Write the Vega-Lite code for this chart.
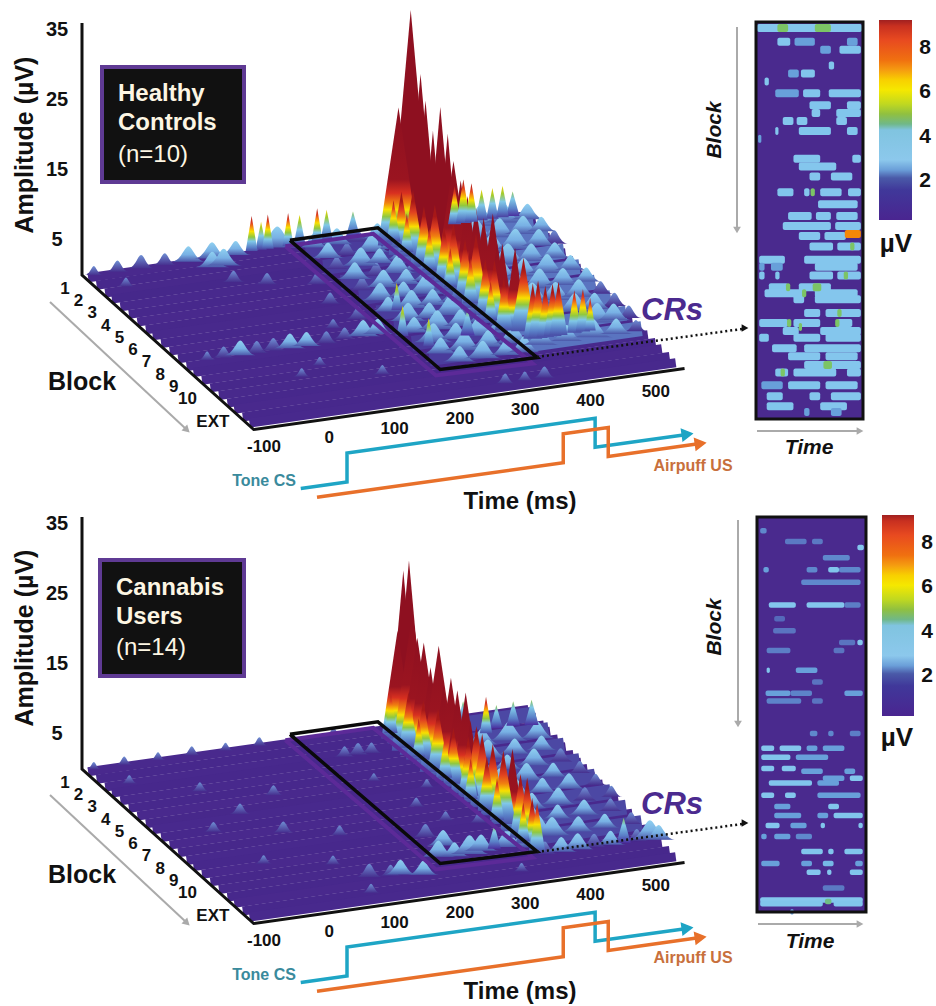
{"$schema":"https://vega.github.io/schema/vega-lite/v6.json","width":936,"height":1006,"autosize":{"type":"fit","contains":"padding"},"padding":0,"background":"white","config":{"view":{"stroke":null},"axis":{"disable":true},"legend":{"disable":true},"text":{"font":"Liberation Sans"}},
"datasets":{
"floor":[{"p":1,"t":-96,"t2":556,"d":0.02,"a":0.2},{"p":1,"t":-96,"t2":556,"d":0.07,"a":0.9},{"p":1,"t":-96,"t2":556,"d":0.12,"a":0.4},{"p":1,"t":-96,"t2":556,"d":0.16,"a":1.1},{"p":1,"t":-96,"t2":556,"d":0.21,"a":0.3},{"p":1,"t":-96,"t2":556,"d":0.26,"a":0.8},{"p":1,"t":-96,"t2":556,"d":0.31,"a":0.2},{"p":1,"t":-96,"t2":556,"d":0.36,"a":1.0},{"p":1,"t":-96,"t2":556,"d":0.4,"a":0.4},{"p":1,"t":-96,"t2":556,"d":0.45,"a":0.9},{"p":1,"t":-96,"t2":556,"d":0.5,"a":0.2},{"p":1,"t":-96,"t2":556,"d":0.55,"a":1.1},{"p":1,"t":-96,"t2":556,"d":0.6,"a":0.3},{"p":1,"t":-96,"t2":556,"d":0.64,"a":0.8},{"p":1,"t":-96,"t2":556,"d":0.69,"a":0.2},{"p":1,"t":-96,"t2":556,"d":0.74,"a":1.0},{"p":1,"t":-96,"t2":556,"d":0.79,"a":0.4},{"p":1,"t":-96,"t2":556,"d":0.84,"a":0.8},{"p":1,"t":-96,"t2":556,"d":0.88,"a":0.2},{"p":1,"t":-96,"t2":556,"d":0.93,"a":0.9},{"p":1,"t":-96,"t2":556,"d":0.97,"a":0.3},
{"p":2,"t":-96,"t2":556,"d":0.02,"a":0.2},{"p":2,"t":-96,"t2":556,"d":0.07,"a":0.8},{"p":2,"t":-96,"t2":556,"d":0.12,"a":0.3},{"p":2,"t":-96,"t2":556,"d":0.16,"a":0.9},{"p":2,"t":-96,"t2":556,"d":0.21,"a":0.3},{"p":2,"t":-96,"t2":556,"d":0.26,"a":0.8},{"p":2,"t":-96,"t2":556,"d":0.31,"a":0.2},{"p":2,"t":-96,"t2":556,"d":0.36,"a":1.0},{"p":2,"t":-96,"t2":556,"d":0.4,"a":0.3},{"p":2,"t":-96,"t2":556,"d":0.45,"a":0.9},{"p":2,"t":-96,"t2":556,"d":0.5,"a":0.2},{"p":2,"t":-96,"t2":556,"d":0.55,"a":1.0},{"p":2,"t":-96,"t2":556,"d":0.6,"a":0.3},{"p":2,"t":-96,"t2":556,"d":0.64,"a":0.8},{"p":2,"t":-96,"t2":556,"d":0.69,"a":0.2},{"p":2,"t":-96,"t2":556,"d":0.74,"a":1.0},{"p":2,"t":-96,"t2":556,"d":0.79,"a":0.4},{"p":2,"t":-96,"t2":556,"d":0.84,"a":0.8},{"p":2,"t":-96,"t2":556,"d":0.88,"a":0.2},{"p":2,"t":-96,"t2":556,"d":0.93,"a":0.9},{"p":2,"t":-96,"t2":556,"d":0.97,"a":0.3}],
"plate":[{"p":1,"t":219,"t2":347,"d":0.05,"a":1.9},{"p":1,"t":221,"t2":351,"d":0.15,"a":1.9},{"p":1,"t":223,"t2":355,"d":0.25,"a":1.9},{"p":1,"t":226,"t2":359,"d":0.35,"a":1.9},{"p":1,"t":228,"t2":363,"d":0.45,"a":1.9},{"p":1,"t":230,"t2":367,"d":0.55,"a":1.9},{"p":1,"t":232,"t2":371,"d":0.65,"a":1.9},{"p":1,"t":234,"t2":375,"d":0.75,"a":1.9},
{"p":1,"t":352,"t2":556,"d":0.05,"a":2.4},{"p":1,"t":356,"t2":556,"d":0.15,"a":2.4},{"p":1,"t":360,"t2":556,"d":0.25,"a":2.4},{"p":1,"t":364,"t2":556,"d":0.35,"a":2.4},{"p":1,"t":368,"t2":556,"d":0.45,"a":2.4},{"p":1,"t":372,"t2":556,"d":0.55,"a":2.4},{"p":1,"t":376,"t2":556,"d":0.65,"a":2.4},{"p":1,"t":380,"t2":556,"d":0.75,"a":2.4},
{"p":2,"t":352,"t2":556,"d":0.05,"a":2.0},{"p":2,"t":356,"t2":556,"d":0.15,"a":2.0},{"p":2,"t":360,"t2":556,"d":0.25,"a":2.0},{"p":2,"t":364,"t2":556,"d":0.35,"a":2.0},{"p":2,"t":368,"t2":556,"d":0.45,"a":2.0},{"p":2,"t":372,"t2":556,"d":0.55,"a":2.0},{"p":2,"t":376,"t2":556,"d":0.65,"a":2.0},{"p":2,"t":380,"t2":556,"d":0.75,"a":2.0}],
"surface":[
{"p":1,"t":-85,"d":0.01,"a":1.3},{"p":1,"t":-50,"d":0.01,"a":1.6},{"p":1,"t":-15,"d":0.01,"a":1.9},{"p":1,"t":20,"d":0.01,"a":1.7},{"p":1,"t":55,"d":0.01,"a":2.2},{"p":1,"t":90,"d":0.01,"a":2.3},{"p":1,"t":125,"d":0.01,"a":2.0},{"p":1,"t":301,"d":0,"a":3.6},{"p":1,"t":189,"d":0,"a":3.0},{"p":1,"t":165,"d":0,"a":4.0},{"p":1,"t":222,"d":0,"a":4.2},{"p":1,"t":262,"d":0,"a":4.4},{"p":1,"t":151,"d":0,"a":5.0},{"p":1,"t":175,"d":0,"a":4.9},{"p":1,"t":205,"d":0,"a":4.7},{"p":1,"t":248,"d":0,"a":4.8},
{"p":1,"t":78,"d":0.06,"a":2.2},{"p":1,"t":95,"d":0.06,"a":2.4},{"p":1,"t":-60,"d":0.1,"a":1.3},{"p":1,"t":85,"d":0.16,"a":1.6},{"p":1,"t":125,"d":0.2,"a":1.6},{"p":1,"t":190,"d":0.24,"a":1.7},{"p":1,"t":180,"d":0.36,"a":1.6},{"p":1,"t":195,"d":0.47,"a":1.8},{"p":1,"t":150,"d":0.5,"a":1.3},{"p":1,"t":-60,"d":0.58,"a":1.2},{"p":1,"t":-35,"d":0.58,"a":1.6},{"p":1,"t":-10,"d":0.58,"a":2.1},{"p":1,"t":15,"d":0.58,"a":1.7},{"p":1,"t":40,"d":0.58,"a":1.8},{"p":1,"t":65,"d":0.58,"a":2.1},{"p":1,"t":90,"d":0.58,"a":2.0},{"p":1,"t":120,"d":0.58,"a":1.7},{"p":1,"t":150,"d":0.57,"a":1.6},{"p":1,"t":178,"d":0.57,"a":2.3},{"p":1,"t":200,"d":0.57,"a":2.2},{"p":1,"t":80,"d":0.7,"a":1.2},{"p":1,"t":40,"d":0.75,"a":1.2},{"p":1,"t":150,"d":0.8,"a":1.3},{"p":1,"t":300,"d":0.95,"a":1.4},{"p":1,"t":330,"d":0.95,"a":1.3},{"p":1,"t":360,"d":0.95,"a":1.6},
{"p":1,"t":236,"d":0.03,"a":2.0},{"p":1,"t":270,"d":0.03,"a":2.3},{"p":1,"t":300,"d":0.03,"a":1.8},{"p":1,"t":330,"d":0.03,"a":2.2},{"p":1,"t":240,"d":0.1,"a":2.2},{"p":1,"t":268,"d":0.1,"a":1.8},{"p":1,"t":305,"d":0.1,"a":2.5},{"p":1,"t":335,"d":0.1,"a":2.0},{"p":1,"t":236,"d":0.17,"a":1.8},{"p":1,"t":272,"d":0.17,"a":2.6},{"p":1,"t":300,"d":0.17,"a":2.1},{"p":1,"t":336,"d":0.17,"a":2.4},{"p":1,"t":246,"d":0.24,"a":2.4},{"p":1,"t":278,"d":0.24,"a":1.9},{"p":1,"t":310,"d":0.24,"a":2.5},{"p":1,"t":340,"d":0.24,"a":2.1},{"p":1,"t":240,"d":0.31,"a":1.9},{"p":1,"t":272,"d":0.31,"a":2.5},{"p":1,"t":306,"d":0.31,"a":2.2},{"p":1,"t":342,"d":0.31,"a":2.6},{"p":1,"t":250,"d":0.38,"a":2.5},{"p":1,"t":285,"d":0.38,"a":2.2},{"p":1,"t":318,"d":0.38,"a":2.7},{"p":1,"t":348,"d":0.38,"a":2.2},{"p":1,"t":245,"d":0.45,"a":2.1},{"p":1,"t":280,"d":0.45,"a":2.6},{"p":1,"t":312,"d":0.45,"a":2.3},{"p":1,"t":350,"d":0.45,"a":2.7},{"p":1,"t":258,"d":0.52,"a":2.6},{"p":1,"t":290,"d":0.52,"a":2.2},{"p":1,"t":322,"d":0.52,"a":2.8},{"p":1,"t":355,"d":0.52,"a":2.3},{"p":1,"t":250,"d":0.59,"a":2.2},{"p":1,"t":285,"d":0.59,"a":2.7},{"p":1,"t":320,"d":0.59,"a":2.4},{"p":1,"t":358,"d":0.59,"a":2.7},{"p":1,"t":262,"d":0.66,"a":2.7},{"p":1,"t":296,"d":0.66,"a":2.3},{"p":1,"t":330,"d":0.66,"a":2.6},{"p":1,"t":362,"d":0.66,"a":2.3},{"p":1,"t":256,"d":0.73,"a":2.3},{"p":1,"t":292,"d":0.73,"a":2.7},{"p":1,"t":328,"d":0.73,"a":2.4},{"p":1,"t":366,"d":0.73,"a":2.6},{"p":1,"t":270,"d":0.79,"a":2.2},{"p":1,"t":305,"d":0.79,"a":2.5},{"p":1,"t":340,"d":0.79,"a":2.1},{"p":1,"t":368,"d":0.79,"a":2.3},
{"p":1,"t":258,"d":0.45,"a":3.9},{"p":1,"t":230,"d":0.6,"a":4.3},{"p":1,"t":250,"d":0.68,"a":4.0},{"p":1,"t":316,"d":0.65,"a":3.7},
{"p":1,"t":375,"d":0.04,"a":3.1},{"p":1,"t":410,"d":0.04,"a":3.0},{"p":1,"t":445,"d":0.04,"a":2.8},{"p":1,"t":480,"d":0.04,"a":2.9},{"p":1,"t":515,"d":0.04,"a":2.7},{"p":1,"t":550,"d":0.04,"a":2.2},{"p":1,"t":385,"d":0.12,"a":3.0},{"p":1,"t":420,"d":0.12,"a":2.8},{"p":1,"t":455,"d":0.12,"a":3.1},{"p":1,"t":490,"d":0.12,"a":2.7},{"p":1,"t":525,"d":0.12,"a":2.6},{"p":1,"t":552,"d":0.12,"a":2.1},{"p":1,"t":390,"d":0.2,"a":2.9},{"p":1,"t":425,"d":0.2,"a":3.1},{"p":1,"t":460,"d":0.2,"a":2.7},{"p":1,"t":495,"d":0.2,"a":2.9},{"p":1,"t":530,"d":0.2,"a":2.4},{"p":1,"t":553,"d":0.2,"a":1.9},{"p":1,"t":395,"d":0.28,"a":3.0},{"p":1,"t":430,"d":0.28,"a":2.7},{"p":1,"t":465,"d":0.28,"a":3.0},{"p":1,"t":500,"d":0.28,"a":2.5},{"p":1,"t":535,"d":0.28,"a":2.2},{"p":1,"t":398,"d":0.36,"a":2.7},{"p":1,"t":435,"d":0.36,"a":3.0},{"p":1,"t":470,"d":0.36,"a":2.6},{"p":1,"t":505,"d":0.36,"a":2.7},{"p":1,"t":540,"d":0.36,"a":2.1},{"p":1,"t":402,"d":0.44,"a":3.0},{"p":1,"t":440,"d":0.44,"a":2.7},{"p":1,"t":475,"d":0.44,"a":2.8},{"p":1,"t":510,"d":0.44,"a":2.4},{"p":1,"t":545,"d":0.44,"a":2.0},{"p":1,"t":408,"d":0.52,"a":2.6},{"p":1,"t":445,"d":0.52,"a":3.0},{"p":1,"t":480,"d":0.52,"a":2.6},{"p":1,"t":515,"d":0.52,"a":2.5},{"p":1,"t":548,"d":0.52,"a":1.8},{"p":1,"t":490,"d":0.6,"a":2.6},{"p":1,"t":520,"d":0.6,"a":2.3},{"p":1,"t":550,"d":0.6,"a":1.9},{"p":1,"t":505,"d":0.68,"a":2.8},{"p":1,"t":530,"d":0.68,"a":2.4},{"p":1,"t":553,"d":0.68,"a":1.8},{"p":1,"t":400,"d":0.76,"a":2.4},{"p":1,"t":440,"d":0.76,"a":2.3},{"p":1,"t":480,"d":0.76,"a":2.6},{"p":1,"t":515,"d":0.76,"a":2.2},{"p":1,"t":545,"d":0.76,"a":1.6},
{"p":1,"t":535,"d":0.01,"a":3.5},{"p":1,"t":505,"d":0.01,"a":4.4},{"p":1,"t":520,"d":0.01,"a":4.5},{"p":1,"t":489,"d":0.01,"a":4.4},{"p":1,"t":449,"d":0.01,"a":5.5},{"p":1,"t":462,"d":0.01,"a":6.2},{"p":1,"t":474,"d":0.01,"a":5.5},
{"p":1,"t":347,"d":0.059,"a":5.9},{"p":1,"t":348,"d":0.086,"a":19.7},{"p":1,"t":350,"d":0.123,"a":24.8},{"p":1,"t":351,"d":0.15,"a":35},{"p":1,"t":352,"d":0.166,"a":25.7},{"p":1,"t":353,"d":0.203,"a":27},{"p":1,"t":354,"d":0.23,"a":23.8},{"p":1,"t":356,"d":0.268,"a":20.3},{"p":1,"t":357,"d":0.31,"a":24.6},{"p":1,"t":359,"d":0.348,"a":21.6},{"p":1,"t":360,"d":0.38,"a":18.4},{"p":1,"t":362,"d":0.417,"a":16.4},{"p":1,"t":363,"d":0.455,"a":15},{"p":1,"t":365,"d":0.5,"a":14.3},{"p":1,"t":367,"d":0.54,"a":13.7},{"p":1,"t":369,"d":0.589,"a":15.4},{"p":1,"t":373,"d":0.6,"a":11.3},{"p":1,"t":376,"d":0.62,"a":11.7},{"p":1,"t":388,"d":0.65,"a":11.6},{"p":1,"t":396,"d":0.67,"a":10.5},
{"p":1,"t":349,"d":0.1,"a":8},{"p":1,"t":352,"d":0.16,"a":9.5},{"p":1,"t":354,"d":0.22,"a":8.5},{"p":1,"t":356,"d":0.28,"a":10},{"p":1,"t":358,"d":0.33,"a":8},{"p":1,"t":360,"d":0.38,"a":9.5},{"p":1,"t":363,"d":0.44,"a":8.5},{"p":1,"t":365,"d":0.5,"a":10.5},{"p":1,"t":367,"d":0.55,"a":8},{"p":1,"t":369,"d":0.6,"a":9},{"p":1,"t":371,"d":0.65,"a":7.5},
{"p":1,"t":398,"d":0.72,"a":7.9},{"p":1,"t":406,"d":0.72,"a":8.2},{"p":1,"t":417,"d":0.72,"a":7.3},{"p":1,"t":428,"d":0.72,"a":7.5},{"p":1,"t":437,"d":0.72,"a":7.6},{"p":1,"t":461,"d":0.72,"a":6.1},{"p":1,"t":474,"d":0.72,"a":6.1},{"p":1,"t":485,"d":0.72,"a":4.7},
{"p":1,"t":350,"d":0.13,"a":5.5},{"p":1,"t":355,"d":0.25,"a":6},{"p":1,"t":360,"d":0.36,"a":5.5},{"p":1,"t":364,"d":0.47,"a":6.5},{"p":1,"t":368,"d":0.58,"a":5.5},
{"p":2,"t":-85,"d":0.01,"a":1.0},{"p":2,"t":-40,"d":0.01,"a":1.2},{"p":2,"t":10,"d":0.01,"a":1.1},{"p":2,"t":60,"d":0.01,"a":1.3},{"p":2,"t":110,"d":0.01,"a":1.1},{"p":2,"t":160,"d":0.01,"a":1.2},{"p":2,"t":210,"d":0.01,"a":1.0},{"p":2,"t":270,"d":0.01,"a":1.1},
{"p":2,"t":-60,"d":0.12,"a":1.2},{"p":2,"t":20,"d":0.22,"a":1.3},{"p":2,"t":110,"d":0.3,"a":1.4},{"p":2,"t":40,"d":0.38,"a":1.5},{"p":2,"t":-20,"d":0.46,"a":1.4},{"p":2,"t":70,"d":0.52,"a":1.6},{"p":2,"t":140,"d":0.58,"a":1.4},{"p":2,"t":0,"d":0.68,"a":1.2},{"p":2,"t":90,"d":0.74,"a":1.3},{"p":2,"t":165,"d":0.85,"a":2.1},{"p":2,"t":150,"d":0.85,"a":1.6},{"p":2,"t":195,"d":0.87,"a":2.0},{"p":2,"t":120,"d":0.84,"a":1.9},{"p":2,"t":100,"d":0.93,"a":1.3},{"p":2,"t":330,"d":0.93,"a":1.2},
{"p":2,"t":255,"d":0.14,"a":1.5},{"p":2,"t":275,"d":0.14,"a":1.7},{"p":2,"t":295,"d":0.14,"a":1.5},{"p":2,"t":260,"d":0.3,"a":1.1},{"p":2,"t":320,"d":0.38,"a":1.2},{"p":2,"t":280,"d":0.48,"a":1.3},{"p":2,"t":300,"d":0.58,"a":1.3},{"p":2,"t":340,"d":0.62,"a":1.4},{"p":2,"t":250,"d":0.66,"a":1.9},{"p":2,"t":262,"d":0.72,"a":2.2},{"p":2,"t":240,"d":0.78,"a":2.3},{"p":2,"t":262,"d":0.79,"a":2.0},{"p":2,"t":285,"d":0.79,"a":2.7},{"p":2,"t":305,"d":0.78,"a":2.3},{"p":2,"t":325,"d":0.78,"a":3.4},{"p":2,"t":345,"d":0.78,"a":2.5},{"p":2,"t":365,"d":0.79,"a":2.1},
{"p":2,"t":430,"d":0.05,"a":3.3},{"p":2,"t":450,"d":0.06,"a":3.5},{"p":2,"t":490,"d":0.1,"a":3.3},{"p":2,"t":515,"d":0.1,"a":3.5},{"p":2,"t":540,"d":0.11,"a":3.6},{"p":2,"t":470,"d":0.12,"a":5.2},
{"p":2,"t":410,"d":0.18,"a":2.6},{"p":2,"t":450,"d":0.18,"a":2.3},{"p":2,"t":490,"d":0.18,"a":2.7},{"p":2,"t":530,"d":0.19,"a":2.4},{"p":2,"t":400,"d":0.26,"a":2.4},{"p":2,"t":440,"d":0.26,"a":2.6},{"p":2,"t":480,"d":0.26,"a":2.2},{"p":2,"t":520,"d":0.26,"a":2.1},{"p":2,"t":410,"d":0.34,"a":2.5},{"p":2,"t":450,"d":0.34,"a":2.1},{"p":2,"t":490,"d":0.34,"a":2.4},{"p":2,"t":530,"d":0.34,"a":1.9},{"p":2,"t":420,"d":0.42,"a":2.3},{"p":2,"t":460,"d":0.42,"a":2.5},{"p":2,"t":500,"d":0.42,"a":2.0},{"p":2,"t":540,"d":0.42,"a":1.7},{"p":2,"t":425,"d":0.5,"a":2.5},{"p":2,"t":465,"d":0.5,"a":2.1},{"p":2,"t":505,"d":0.5,"a":2.2},{"p":2,"t":545,"d":0.5,"a":1.6},{"p":2,"t":430,"d":0.58,"a":2.2},{"p":2,"t":470,"d":0.58,"a":2.4},{"p":2,"t":510,"d":0.58,"a":1.9},{"p":2,"t":550,"d":0.58,"a":1.6},{"p":2,"t":410,"d":0.66,"a":2.4},{"p":2,"t":450,"d":0.66,"a":2.0},{"p":2,"t":490,"d":0.66,"a":2.2},{"p":2,"t":530,"d":0.66,"a":1.8},{"p":2,"t":400,"d":0.74,"a":3.0},{"p":2,"t":420,"d":0.75,"a":2.6},{"p":2,"t":460,"d":0.75,"a":2.2},{"p":2,"t":500,"d":0.75,"a":2.0},{"p":2,"t":540,"d":0.75,"a":1.7},
{"p":2,"t":385,"d":0.85,"a":1.8},{"p":2,"t":410,"d":0.85,"a":2.1},{"p":2,"t":435,"d":0.85,"a":2.3},{"p":2,"t":460,"d":0.85,"a":1.9},{"p":2,"t":485,"d":0.85,"a":2.0},{"p":2,"t":505,"d":0.85,"a":3.6},{"p":2,"t":525,"d":0.85,"a":1.7},{"p":2,"t":545,"d":0.85,"a":2.7},{"p":2,"t":556,"d":0.86,"a":2.1},
{"p":2,"t":347,"d":0.043,"a":5.6},{"p":2,"t":348,"d":0.08,"a":15.4},{"p":2,"t":349,"d":0.112,"a":24.7},{"p":2,"t":351,"d":0.139,"a":26.7},{"p":2,"t":351,"d":0.16,"a":19.6},{"p":2,"t":352,"d":0.187,"a":16.7},{"p":2,"t":354,"d":0.219,"a":16.7},{"p":2,"t":355,"d":0.257,"a":14},{"p":2,"t":357,"d":0.3,"a":18},{"p":2,"t":358,"d":0.326,"a":13},{"p":2,"t":360,"d":0.364,"a":14.8},{"p":2,"t":361,"d":0.4,"a":13.8},{"p":2,"t":363,"d":0.444,"a":14.4},{"p":2,"t":364,"d":0.47,"a":11},{"p":2,"t":365,"d":0.503,"a":10.9},{"p":2,"t":366,"d":0.535,"a":10.5},{"p":2,"t":369,"d":0.589,"a":10.2},{"p":2,"t":371,"d":0.647,"a":10.5},{"p":2,"t":373,"d":0.696,"a":11.8},{"p":2,"t":375,"d":0.738,"a":9.1},{"p":2,"t":376,"d":0.776,"a":9.4},{"p":2,"t":377,"d":0.803,"a":7.1},{"p":2,"t":378,"d":0.83,"a":6.9},
{"p":2,"t":350,"d":0.14,"a":8},{"p":2,"t":353,"d":0.22,"a":8.5},{"p":2,"t":356,"d":0.3,"a":9},{"p":2,"t":360,"d":0.38,"a":8},{"p":2,"t":363,"d":0.46,"a":8.5},{"p":2,"t":367,"d":0.56,"a":7.8},{"p":2,"t":351,"d":0.2,"a":5.5},{"p":2,"t":357,"d":0.34,"a":6},{"p":2,"t":362,"d":0.48,"a":5.8},{"p":2,"t":368,"d":0.62,"a":6},{"p":2,"t":374,"d":0.76,"a":5.5}],
"frame":[{"p":1,"o":1,"t":-100,"d":0,"a":36},{"p":1,"o":2,"t":-100,"d":0,"a":0},{"p":1,"o":3,"t":-100,"d":1.01,"a":0},{"p":1,"o":4,"t":560,"d":1.01,"a":0},{"p":2,"o":1,"t":-100,"d":0,"a":36},{"p":2,"o":2,"t":-100,"d":0,"a":0},{"p":2,"o":3,"t":-100,"d":1.01,"a":0},{"p":2,"o":4,"t":560,"d":1.01,"a":0}],
"win":[{"p":1,"o":1,"t":215,"d":-0.03},{"p":1,"o":2,"t":345,"d":-0.03},{"p":1,"o":3,"t":378,"d":0.83},{"p":1,"o":4,"t":233,"d":0.82},{"p":1,"o":5,"t":215,"d":-0.03},{"p":2,"o":1,"t":215,"d":-0.03},{"p":2,"o":2,"t":345,"d":-0.03},{"p":2,"o":3,"t":378,"d":0.83},{"p":2,"o":4,"t":233,"d":0.82},{"p":2,"o":5,"t":215,"d":-0.03}],
"ticks":[{"p":1,"g":"t","t":-100,"d":1,"a":0,"l":"-100"},{"p":1,"g":"t","t":0,"d":1,"a":0,"l":"0"},{"p":1,"g":"t","t":100,"d":1,"a":0,"l":"100"},{"p":1,"g":"t","t":200,"d":1,"a":0,"l":"200"},{"p":1,"g":"t","t":300,"d":1,"a":0,"l":"300"},{"p":1,"g":"t","t":400,"d":1,"a":0,"l":"400"},{"p":1,"g":"t","t":500,"d":1,"a":0,"l":"500"},{"p":2,"g":"t","t":-100,"d":1,"a":0,"l":"-100"},{"p":2,"g":"t","t":0,"d":1,"a":0,"l":"0"},{"p":2,"g":"t","t":100,"d":1,"a":0,"l":"100"},{"p":2,"g":"t","t":200,"d":1,"a":0,"l":"200"},{"p":2,"g":"t","t":300,"d":1,"a":0,"l":"300"},{"p":2,"g":"t","t":400,"d":1,"a":0,"l":"400"},{"p":2,"g":"t","t":500,"d":1,"a":0,"l":"500"},
{"p":1,"g":"b","t":-100,"d":0,"a":0,"l":"1"},{"p":1,"g":"b","t":-100,"d":0.08,"a":0,"l":"2"},{"p":1,"g":"b","t":-100,"d":0.16,"a":0,"l":"3"},{"p":1,"g":"b","t":-100,"d":0.24,"a":0,"l":"4"},{"p":1,"g":"b","t":-100,"d":0.32,"a":0,"l":"5"},{"p":1,"g":"b","t":-100,"d":0.4,"a":0,"l":"6"},{"p":1,"g":"b","t":-100,"d":0.48,"a":0,"l":"7"},{"p":1,"g":"b","t":-100,"d":0.56,"a":0,"l":"8"},{"p":1,"g":"b","t":-100,"d":0.64,"a":0,"l":"9"},{"p":1,"g":"b","t":-100,"d":0.72,"a":0,"l":"10"},{"p":1,"g":"b","t":-100,"d":0.87,"a":0,"l":"EXT"},{"p":2,"g":"b","t":-100,"d":0,"a":0,"l":"1"},{"p":2,"g":"b","t":-100,"d":0.08,"a":0,"l":"2"},{"p":2,"g":"b","t":-100,"d":0.16,"a":0,"l":"3"},{"p":2,"g":"b","t":-100,"d":0.24,"a":0,"l":"4"},{"p":2,"g":"b","t":-100,"d":0.32,"a":0,"l":"5"},{"p":2,"g":"b","t":-100,"d":0.4,"a":0,"l":"6"},{"p":2,"g":"b","t":-100,"d":0.48,"a":0,"l":"7"},{"p":2,"g":"b","t":-100,"d":0.56,"a":0,"l":"8"},{"p":2,"g":"b","t":-100,"d":0.64,"a":0,"l":"9"},{"p":2,"g":"b","t":-100,"d":0.72,"a":0,"l":"10"},{"p":2,"g":"b","t":-100,"d":0.87,"a":0,"l":"EXT"},
{"p":1,"g":"a","t":-100,"d":0,"a":5,"l":"5"},{"p":1,"g":"a","t":-100,"d":0,"a":15,"l":"15"},{"p":1,"g":"a","t":-100,"d":0,"a":25,"l":"25"},{"p":1,"g":"a","t":-100,"d":0,"a":35,"l":"35"},{"p":2,"g":"a","t":-100,"d":0,"a":5,"l":"5"},{"p":2,"g":"a","t":-100,"d":0,"a":15,"l":"15"},{"p":2,"g":"a","t":-100,"d":0,"a":25,"l":"25"},{"p":2,"g":"a","t":-100,"d":0,"a":35,"l":"35"}],
"trace":[{"p":1,"tr":"CS","o":1,"t":-74,"l":0},{"p":1,"tr":"CS","o":2,"t":0,"l":0},{"p":1,"tr":"CS","o":3,"t":0,"l":1},{"p":1,"tr":"CS","o":4,"t":397,"l":1},{"p":1,"tr":"CS","o":5,"t":397,"l":0},{"p":1,"tr":"CS","o":6,"t":544,"l":0},{"p":1,"tr":"US","o":1,"t":-48,"l":0},{"p":1,"tr":"US","o":2,"t":346,"l":0},{"p":1,"tr":"US","o":3,"t":346,"l":1},{"p":1,"tr":"US","o":4,"t":418,"l":1},{"p":1,"tr":"US","o":5,"t":418,"l":0},{"p":1,"tr":"US","o":6,"t":565,"l":0},{"p":2,"tr":"CS","o":1,"t":-74,"l":0},{"p":2,"tr":"CS","o":2,"t":0,"l":0},{"p":2,"tr":"CS","o":3,"t":0,"l":1},{"p":2,"tr":"CS","o":4,"t":397,"l":1},{"p":2,"tr":"CS","o":5,"t":397,"l":0},{"p":2,"tr":"CS","o":6,"t":544,"l":0},{"p":2,"tr":"US","o":1,"t":-48,"l":0},{"p":2,"tr":"US","o":2,"t":346,"l":0},{"p":2,"tr":"US","o":3,"t":346,"l":1},{"p":2,"tr":"US","o":4,"t":418,"l":1},{"p":2,"tr":"US","o":5,"t":418,"l":0},{"p":2,"tr":"US","o":6,"t":565,"l":0}],
"heat":[{"p":1,"r":0.5,"c0":1,"c1":99,"v":3.6},{"p":1,"r":0.5,"c0":20,"c1":30,"v":5},{"p":1,"r":0.5,"c0":55,"c1":70,"v":5},{"p":1,"r":4,"c0":20,"c1":32,"v":3.6},{"p":1,"r":4,"c0":36,"c1":55,"v":3},{"p":1,"r":4,"c0":85,"c1":95,"v":3},{"p":1,"r":6,"c0":60,"c1":70,"v":3},{"p":1,"r":6,"c0":78,"c1":98,"v":3.4},{"p":1,"r":10,"c0":68,"c1":73,"v":3.4},{"p":1,"r":12,"c0":30,"c1":40,"v":3},{"p":1,"r":12,"c0":42,"c1":55,"v":3.4},{"p":1,"r":14,"c0":8,"c1":12,"v":3.6},{"p":1,"r":17,"c0":18,"c1":40,"v":3},{"p":1,"r":17,"c0":44,"c1":60,"v":3.4},{"p":1,"r":17,"c0":68,"c1":98,"v":3.4},{"p":1,"r":20,"c0":50,"c1":70,"v":3.4},{"p":1,"r":20,"c0":85,"c1":98,"v":3.6},{"p":1,"r":22,"c0":52,"c1":60,"v":3.6},{"p":1,"r":22,"c0":75,"c1":98,"v":3.4},{"p":1,"r":24,"c0":25,"c1":35,"v":3.6},{"p":1,"r":24,"c0":38,"c1":48,"v":3.6},{"p":1,"r":24,"c0":75,"c1":85,"v":3.6},{"p":1,"r":26.5,"c0":18,"c1":21,"v":3.6},{"p":1,"r":26.5,"c0":40,"c1":70,"v":3.4},{"p":1,"r":26.5,"c0":85,"c1":95,"v":3.4},{"p":1,"r":28.5,"c0":2,"c1":5,"v":3},{"p":1,"r":33.5,"c0":35,"c1":60,"v":3.6},{"p":1,"r":33.5,"c0":90,"c1":98,"v":3.6},{"p":1,"r":35.5,"c0":40,"c1":75,"v":3.6},{"p":1,"r":38,"c0":50,"c1":60,"v":3.6},{"p":1,"r":38,"c0":70,"c1":90,"v":3.6},{"p":1,"r":42,"c0":20,"c1":35,"v":3.4},{"p":1,"r":42,"c0":45,"c1":50,"v":3.6},{"p":1,"r":42,"c0":60,"c1":80,"v":3.6},{"p":1,"r":42,"c0":86,"c1":98,"v":3.6},{"p":1,"r":45,"c0":58,"c1":95,"v":3.6},{"p":1,"r":48,"c0":30,"c1":52,"v":3.6},{"p":1,"r":48,"c0":56,"c1":70,"v":3.6},{"p":1,"r":48,"c0":75,"c1":95,"v":3.6},{"p":1,"r":50.5,"c0":25,"c1":70,"v":3.6},{"p":1,"r":50.5,"c0":74,"c1":98,"v":3.6},{"p":1,"r":53,"c0":40,"c1":60,"v":3.6},{"p":1,"r":53,"c0":64,"c1":84,"v":3.6},{"p":1,"r":55.7,"c0":50,"c1":72,"v":3.6},{"p":1,"r":55.7,"c0":76,"c1":98,"v":3.6},{"p":1,"r":59,"c0":3,"c1":27,"v":3.6},{"p":1,"r":59,"c0":45,"c1":98,"v":3.6},{"p":1,"r":60.8,"c0":3,"c1":8,"v":3},{"p":1,"r":60.8,"c0":14,"c1":25,"v":3},{"p":1,"r":60.8,"c0":55,"c1":95,"v":3.6},{"p":1,"r":63,"c0":3,"c1":8,"v":3.4},{"p":1,"r":63,"c0":18,"c1":22,"v":3.4},{"p":1,"r":63,"c0":50,"c1":72,"v":3.6},{"p":1,"r":63,"c0":76,"c1":98,"v":3.6},{"p":1,"r":66,"c0":12,"c1":30,"v":3.4},{"p":1,"r":66,"c0":40,"c1":70,"v":3.6},{"p":1,"r":67.5,"c0":8,"c1":45,"v":3.6},{"p":1,"r":67.5,"c0":55,"c1":95,"v":3.6},{"p":1,"r":69,"c0":35,"c1":45,"v":3.6},{"p":1,"r":69,"c0":55,"c1":98,"v":3.6},{"p":1,"r":72.5,"c0":45,"c1":60,"v":3.6},{"p":1,"r":72.5,"c0":65,"c1":98,"v":3.6},{"p":1,"r":75,"c0":3,"c1":30,"v":3.4},{"p":1,"r":75,"c0":35,"c1":60,"v":3.6},{"p":1,"r":75,"c0":75,"c1":90,"v":3.6},{"p":1,"r":77,"c0":25,"c1":40,"v":3.6},{"p":1,"r":77,"c0":60,"c1":98,"v":3.6},{"p":1,"r":78.7,"c0":3,"c1":12,"v":3.4},{"p":1,"r":78.7,"c0":35,"c1":60,"v":3.6},{"p":1,"r":78.7,"c0":65,"c1":98,"v":3.6},{"p":1,"r":81.4,"c0":15,"c1":38,"v":3.6},{"p":1,"r":81.4,"c0":45,"c1":98,"v":3.6},{"p":1,"r":83.4,"c0":30,"c1":60,"v":3.6},{"p":1,"r":83.4,"c0":65,"c1":95,"v":3.6},{"p":1,"r":85.6,"c0":45,"c1":98,"v":3.6},{"p":1,"r":87.5,"c0":18,"c1":30,"v":3.4},{"p":1,"r":87.5,"c0":35,"c1":75,"v":3.6},{"p":1,"r":87.5,"c0":85,"c1":98,"v":3.6},{"p":1,"r":90.7,"c0":5,"c1":25,"v":3},{"p":1,"r":90.7,"c0":30,"c1":60,"v":3.4},{"p":1,"r":90.7,"c0":65,"c1":95,"v":3.6},{"p":1,"r":93.5,"c0":10,"c1":25,"v":3.4},{"p":1,"r":93.5,"c0":50,"c1":60,"v":3.6},{"p":1,"r":93.5,"c0":70,"c1":98,"v":3.6},{"p":1,"r":96,"c0":10,"c1":35,"v":3.4},{"p":1,"r":96,"c0":60,"c1":85,"v":3.6},{"p":1,"r":97.5,"c0":45,"c1":50,"v":3},{"p":1,"r":97.5,"c0":70,"c1":80,"v":3},
{"p":1,"r":42,"c0":51,"c1":55,"v":5},{"p":1,"r":52.5,"c0":83,"c1":98,"v":7.2},{"p":1,"r":55.7,"c0":88,"c1":92,"v":5},{"p":1,"r":63,"c0":82,"c1":86,"v":5},{"p":1,"r":66,"c0":28,"c1":32,"v":5},{"p":1,"r":66,"c0":53,"c1":61,"v":5},{"p":1,"r":67.5,"c0":43,"c1":47,"v":5},{"p":1,"r":72.5,"c0":76,"c1":80,"v":5},{"p":1,"r":75,"c0":29,"c1":33,"v":5},{"p":1,"r":75,"c0":74,"c1":78,"v":5},{"p":1,"r":76,"c0":40,"c1":43,"v":5},{"p":1,"r":85.6,"c0":63,"c1":71,"v":5},{"p":1,"r":87.5,"c0":23,"c1":27,"v":5},
{"p":2,"r":2.8,"c0":2,"c1":8,"v":2.8},{"p":2,"r":5.5,"c0":25,"c1":45,"v":2.5},{"p":2,"r":5.5,"c0":50,"c1":60,"v":2.5},{"p":2,"r":7,"c0":92,"c1":98,"v":3.6},{"p":2,"r":9.6,"c0":60,"c1":85,"v":2.8},{"p":2,"r":12.6,"c0":5,"c1":10,"v":3},{"p":2,"r":12.6,"c0":45,"c1":55,"v":2.8},{"p":2,"r":12.6,"c0":65,"c1":75,"v":3.4},{"p":2,"r":12.6,"c0":75,"c1":95,"v":2.8},{"p":2,"r":15.8,"c0":40,"c1":95,"v":2.8},{"p":2,"r":21.5,"c0":10,"c1":35,"v":3.6},{"p":2,"r":21.5,"c0":45,"c1":80,"v":3.6},{"p":2,"r":21.5,"c0":80,"c1":95,"v":2.6},{"p":2,"r":25,"c0":15,"c1":25,"v":2.3},{"p":2,"r":28,"c0":14,"c1":35,"v":2.4},{"p":2,"r":31,"c0":92,"c1":97,"v":3.6},{"p":2,"r":31,"c0":75,"c1":90,"v":2.4},{"p":2,"r":33,"c0":8,"c1":30,"v":2.6},{"p":2,"r":33,"c0":70,"c1":80,"v":2.4},{"p":2,"r":38,"c0":8,"c1":11,"v":3.4},{"p":2,"r":38,"c0":35,"c1":55,"v":3},{"p":2,"r":41,"c0":50,"c1":60,"v":2.4},{"p":2,"r":43.8,"c0":7,"c1":30,"v":3},{"p":2,"r":43.8,"c0":30,"c1":50,"v":2.7},{"p":2,"r":43.8,"c0":80,"c1":97,"v":3},{"p":2,"r":45.8,"c0":8,"c1":40,"v":2.7},{"p":2,"r":45.8,"c0":50,"c1":60,"v":2.4},{"p":2,"r":54,"c0":48,"c1":55,"v":2.8},{"p":2,"r":54,"c0":65,"c1":70,"v":2.8},{"p":2,"r":54,"c0":85,"c1":95,"v":2.6},{"p":2,"r":57.7,"c0":3,"c1":15,"v":3.6},{"p":2,"r":57.7,"c0":20,"c1":40,"v":3.6},{"p":2,"r":57.7,"c0":45,"c1":55,"v":3},{"p":2,"r":57.7,"c0":60,"c1":80,"v":3},{"p":2,"r":60,"c0":3,"c1":30,"v":3.4},{"p":2,"r":60,"c0":35,"c1":65,"v":3},{"p":2,"r":62.8,"c0":3,"c1":15,"v":3.6},{"p":2,"r":62.8,"c0":22,"c1":35,"v":3.6},{"p":2,"r":63.5,"c0":40,"c1":60,"v":3},{"p":2,"r":63.5,"c0":80,"c1":90,"v":3},{"p":2,"r":65.3,"c0":85,"c1":97,"v":3.6},{"p":2,"r":65.3,"c0":60,"c1":80,"v":3},{"p":2,"r":66.5,"c0":10,"c1":50,"v":3.4},{"p":2,"r":66.5,"c0":55,"c1":75,"v":3},{"p":2,"r":69.6,"c0":3,"c1":15,"v":3.6},{"p":2,"r":69.6,"c0":25,"c1":35,"v":3.6},{"p":2,"r":69.6,"c0":55,"c1":95,"v":3},{"p":2,"r":72.4,"c0":15,"c1":30,"v":3},{"p":2,"r":72.4,"c0":65,"c1":75,"v":3.4},{"p":2,"r":74.7,"c0":15,"c1":40,"v":3},{"p":2,"r":74.7,"c0":55,"c1":65,"v":3},{"p":2,"r":74.7,"c0":70,"c1":97,"v":3.4},{"p":2,"r":77.2,"c0":7,"c1":20,"v":3.6},{"p":2,"r":77.2,"c0":30,"c1":45,"v":3},{"p":2,"r":77.2,"c0":58,"c1":62,"v":3.4},{"p":2,"r":77.2,"c0":93,"c1":97,"v":3.4},{"p":2,"r":80,"c0":3,"c1":8,"v":3},{"p":2,"r":80,"c0":15,"c1":30,"v":3},{"p":2,"r":80,"c0":35,"c1":50,"v":2.8},{"p":2,"r":83.8,"c0":40,"c1":60,"v":3.4},{"p":2,"r":83.8,"c0":65,"c1":70,"v":3.4},{"p":2,"r":83.8,"c0":80,"c1":97,"v":3.4},{"p":2,"r":86.8,"c0":3,"c1":20,"v":3},{"p":2,"r":86.8,"c0":40,"c1":50,"v":3},{"p":2,"r":86.8,"c0":60,"c1":70,"v":3.2},{"p":2,"r":86.8,"c0":90,"c1":97,"v":3},{"p":2,"r":89,"c0":45,"c1":58,"v":3.6},{"p":2,"r":89,"c0":64,"c1":68,"v":3.6},{"p":2,"r":89,"c0":85,"c1":97,"v":3.4},{"p":2,"r":93,"c0":60,"c1":80,"v":2.5},{"p":2,"r":96,"c0":2,"c1":97,"v":3.6},{"p":2,"r":97,"c0":2,"c1":60,"v":3.4},{"p":2,"r":97,"c0":70,"c1":97,"v":3.4},{"p":2,"r":96.4,"c0":62,"c1":68,"v":4.8},{"p":2,"r":99,"c0":30,"c1":33,"v":3}]
},
"layer":[
{"data":{"name":"floor"},"transform":[{"calculate":"(datum.t+100)/660","as":"u"},{"calculate":"(datum.t2+100)/660","as":"w"},{"calculate":"82+446*datum.u+(170-15*datum.u)*datum.d","as":"X"},{"calculate":"82+446*datum.w+(170-15*datum.w)*datum.d","as":"X2"},{"calculate":"275-63*datum.u+(153+2*datum.u)*datum.d+(datum.p==2?494:0)","as":"Y"},{"calculate":"275-63*datum.w+(153+2*datum.w)*datum.d+(datum.p==2?494:0)","as":"Y2"}],
"mark":{"type":"rule","strokeWidth":9},"encoding":{"x":{"field":"X","type":"quantitative","scale":{"domain":[0,936],"nice":false,"zero":false}},"y":{"field":"Y","type":"quantitative","scale":{"domain":[0,1006],"nice":false,"zero":false,"reverse":true}},"x2":{"field":"X2"},"y2":{"field":"Y2"},"color":{"field":"a","type":"quantitative","scale":{"domain":[0,1.2,1.9,2.4,2.8,3.3,4.2,4.7,5.2,5.8,6.2,6.9,7.5,8.3,9.2],"range":["#49298d","#46288b","#4a3c9c","#5a74c0","#5f88cc","#80c4ec","#8ccbee","#6fbb90","#98c63c","#d8de10","#f8e600","#f9a400","#ee6c14","#e04020","#a01818"]}}}},
{"data":{"name":"plate"},"transform":[{"calculate":"(datum.t+100)/660","as":"u"},{"calculate":"(datum.t2+100)/660","as":"w"},{"calculate":"82+446*datum.u+(170-15*datum.u)*datum.d","as":"X"},{"calculate":"82+446*datum.w+(170-15*datum.w)*datum.d","as":"X2"},{"calculate":"275-63*datum.u+(153+2*datum.u)*datum.d+(datum.p==2?494:0)","as":"Y"},{"calculate":"275-63*datum.w+(153+2*datum.w)*datum.d+(datum.p==2?494:0)","as":"Y2"}],
"mark":{"type":"rule","strokeWidth":15},"encoding":{"x":{"field":"X","type":"quantitative"},"y":{"field":"Y","type":"quantitative"},"x2":{"field":"X2"},"y2":{"field":"Y2"},"color":{"field":"a","type":"quantitative"}}},
{"data":{"name":"surface"},"transform":[{"calculate":"(datum.t+100)/660","as":"u"},{"calculate":"82+446*datum.u+(170-15*datum.u)*datum.d","as":"X"},{"calculate":"275-63*datum.u+(153+2*datum.u)*datum.d+(datum.p==2?494:0)","as":"Y"},{"calculate":"196*datum.a*datum.a","as":"S"}],
"encoding":{"x":{"field":"X","type":"quantitative"},"y":{"field":"Y","type":"quantitative"},"size":{"field":"S","type":"quantitative","scale":null}},
"layer":[
{"transform":[{"filter":"datum.a<2"}],"mark":{"type":"point","filled":true,"opacity":1,"stroke":null,"shape":"M -1 0 C -0.45 0 -0.25 -1 0 -1 C 0.25 -1 0.45 0 1 0 Z","fill":{"gradient":"linear","x1":0,"y1":0,"x2":0,"y2":1,"stops":[{"offset":0,"color":"#6f90d4"},{"offset":1,"color":"#46308f"}]}}},
{"transform":[{"filter":"datum.a>=2&&datum.a<3.2"}],"mark":{"type":"point","filled":true,"opacity":1,"stroke":null,"shape":"M -1.1 0 C -0.5 0 -0.25 -1 0 -1 C 0.25 -1 0.5 0 1.1 0 Z","fill":{"gradient":"linear","x1":0,"y1":0,"x2":0,"y2":1,"stops":[{"offset":0,"color":"#8fd0f0"},{"offset":0.55,"color":"#78b0e4"},{"offset":1,"color":"#4c58aa"}]}}},
{"transform":[{"filter":"datum.a>=3.2&&datum.a<3.8"}],"mark":{"type":"point","filled":true,"opacity":1,"stroke":null,"shape":"M -0.28 0 L 0 -1 L 0.28 0 Z","fill":{"gradient":"linear","x1":0,"y1":0,"x2":0,"y2":1,"stops":[{"offset":0,"color":"#88c050"},{"offset":0.3,"color":"#80c8e8"},{"offset":0.7,"color":"#5a80c8"},{"offset":1,"color":"#4a30a0"}]}}},
{"transform":[{"filter":"datum.a>=3.8&&datum.a<4.6"}],"mark":{"type":"point","filled":true,"opacity":1,"stroke":null,"shape":"M -0.2 0 L 0 -1 L 0.2 0 Z","fill":{"gradient":"linear","x1":0,"y1":0,"x2":0,"y2":1,"stops":[{"offset":0,"color":"#f0d000"},{"offset":0.25,"color":"#a0cc30"},{"offset":0.5,"color":"#80c8e8"},{"offset":0.8,"color":"#5a80c8"},{"offset":1,"color":"#4a40a0"}]}}},
{"transform":[{"filter":"datum.a>=20"}],"mark":{"type":"point","filled":true,"opacity":1,"stroke":null,"shape":"M -0.09 0 L 0 -1 L 0.09 0 Z","fill":{"gradient":"linear","x1":0,"y1":0,"x2":0,"y2":1,"stops":[{"offset":0,"color":"#8e1020"},{"offset":0.74,"color":"#8e1020"},{"offset":0.8,"color":"#d03020"},{"offset":0.83,"color":"#f08010"},{"offset":0.86,"color":"#f8e000"},{"offset":0.885,"color":"#90c840"},{"offset":0.91,"color":"#80c8e8"},{"offset":0.95,"color":"#5a80c8"},{"offset":1,"color":"#4a50a8"}]}}},
{"transform":[{"filter":"datum.a>=11&&datum.a<20"}],"mark":{"type":"point","filled":true,"opacity":1,"stroke":null,"shape":"M -0.15 0 L 0 -1 L 0.15 0 Z","fill":{"gradient":"linear","x1":0,"y1":0,"x2":0,"y2":1,"stops":[{"offset":0,"color":"#8e1020"},{"offset":0.52,"color":"#9a1420"},{"offset":0.62,"color":"#d83020"},{"offset":0.69,"color":"#f08010"},{"offset":0.74,"color":"#f8e000"},{"offset":0.79,"color":"#90c840"},{"offset":0.83,"color":"#80c8e8"},{"offset":0.91,"color":"#5a80c8"},{"offset":1,"color":"#4a50a8"}]}}},
{"transform":[{"filter":"datum.a>=7&&datum.a<11"}],"mark":{"type":"point","filled":true,"opacity":1,"stroke":null,"shape":"M -0.17 0 L 0 -1 L 0.17 0 Z","fill":{"gradient":"linear","x1":0,"y1":0,"x2":0,"y2":1,"stops":[{"offset":0,"color":"#a01818"},{"offset":0.17,"color":"#a81818"},{"offset":0.33,"color":"#e04020"},{"offset":0.45,"color":"#f08010"},{"offset":0.55,"color":"#f8e000"},{"offset":0.64,"color":"#90c840"},{"offset":0.72,"color":"#80c8e8"},{"offset":0.88,"color":"#5a80c8"},{"offset":1,"color":"#4a50a8"}]}}},
{"transform":[{"filter":"datum.a>=4.6&&datum.a<7"}],"mark":{"type":"point","filled":true,"opacity":1,"stroke":null,"shape":"M -0.17 0 L 0 -1 L 0.17 0 Z","fill":{"gradient":"linear","x1":0,"y1":0,"x2":0,"y2":1,"stops":[{"offset":0,"color":"#a81818"},{"offset":0.2,"color":"#e04020"},{"offset":0.32,"color":"#f59010"},{"offset":0.44,"color":"#f8e000"},{"offset":0.6,"color":"#90c840"},{"offset":0.72,"color":"#80c8e8"},{"offset":0.9,"color":"#5a80c8"},{"offset":1,"color":"#4a50a8"}]}}}
]},
{"data":{"name":"win"},"transform":[{"calculate":"(datum.t-14+100)/660","as":"u"},{"calculate":"82+446*datum.u+(170-15*datum.u)*(datum.d+0.03)","as":"X"},{"calculate":"275-63*datum.u+(153+2*datum.u)*(datum.d+0.03)+(datum.p==2?494:0)","as":"Y"}],"mark":{"type":"line","stroke":"#5c2a98","strokeWidth":4},"encoding":{"x":{"field":"X","type":"quantitative"},"y":{"field":"Y","type":"quantitative"},"detail":{"field":"p"},"order":{"field":"o"}}},
{"data":{"name":"win"},"transform":[{"calculate":"(datum.t+100)/660","as":"u"},{"calculate":"82+446*datum.u+(170-15*datum.u)*datum.d","as":"X"},{"calculate":"275-63*datum.u+(153+2*datum.u)*datum.d+(datum.p==2?494:0)","as":"Y"}],"mark":{"type":"line","stroke":"#0a0a0a","strokeWidth":3.5},"encoding":{"x":{"field":"X","type":"quantitative"},"y":{"field":"Y","type":"quantitative"},"detail":{"field":"p"},"order":{"field":"o"}}},
{"data":{"name":"frame"},"transform":[{"calculate":"(datum.t+100)/660","as":"u"},{"calculate":"82+446*datum.u+(170-15*datum.u)*datum.d","as":"X"},{"calculate":"275-63*datum.u+(153+2*datum.u)*datum.d+(datum.p==2?494:0)-7*datum.a","as":"Y"}],"mark":{"type":"line","stroke":"#111111","strokeWidth":3},"encoding":{"x":{"field":"X","type":"quantitative"},"y":{"field":"Y","type":"quantitative"},"detail":{"field":"p"},"order":{"field":"o"}}},
{"data":{"name":"ticks"},"transform":[{"calculate":"(datum.t+100)/660","as":"u"},{"calculate":"82+446*datum.u+(170-15*datum.u)*datum.d","as":"X"},{"calculate":"275-63*datum.u+(153+2*datum.u)*datum.d+(datum.p==2?494:0)-7*datum.a","as":"Y"}],"encoding":{"x":{"field":"X","type":"quantitative"},"y":{"field":"Y","type":"quantitative"},"text":{"field":"l"}},"layer":[
{"transform":[{"filter":"datum.g=='t'"}],"mark":{"type":"text","fontWeight":"bold","fontSize":17,"dx":12,"dy":19,"fill":"#111"}},
{"transform":[{"filter":"datum.g=='b'"}],"mark":{"type":"text","fontWeight":"bold","fontSize":17,"dx":-17,"dy":14,"fill":"#111"}},
{"transform":[{"filter":"datum.g=='a'"}],"mark":{"type":"text","fontWeight":"bold","fontSize":20,"dx":-25,"fill":"#111"}}]},
{"data":{"name":"trace"},"transform":[{"calculate":"347+0.625*datum.t","as":"X"},{"calculate":"(datum.tr=='CS'?482:493)-0.0875*datum.t-29*datum.l+(datum.p==2?494:0)","as":"Y"}],"encoding":{"x":{"field":"X","type":"quantitative"},"y":{"field":"Y","type":"quantitative"},"stroke":{"field":"tr","type":"nominal","scale":{"domain":["CS","US"],"range":["#1ea5c5","#e8702a"]}}},"layer":[
{"mark":{"type":"line","strokeWidth":3.5},"encoding":{"detail":{"field":"p"},"order":{"field":"o"}}},
{"transform":[{"filter":"datum.o==6"}],"mark":{"type":"point","shape":"triangle-right","filled":true,"opacity":1,"size":110,"angle":-8},"encoding":{"fill":{"field":"tr","type":"nominal","scale":{"domain":["CS","US"],"range":["#1ea5c5","#e8702a"]}}}}]},
{"data":{"values":[{}]},"mark":{"type":"rect","fill":"#4a2a8e"},"encoding":{"x":{"datum":756},"x2":{"datum":863},"y":{"datum":22},"y2":{"datum":419}}},
{"data":{"values":[{}]},"mark":{"type":"rect","fill":"#4a2a8e"},"encoding":{"x":{"datum":757},"x2":{"datum":866},"y":{"datum":517},"y2":{"datum":912}}},
{"data":{"name":"heat"},"transform":[{"calculate":"datum.p==1?756:758","as":"L"},{"calculate":"datum.p==1?1.07:1.08","as":"W"},{"calculate":"datum.L+datum.c0*datum.W","as":"X"},{"calculate":"datum.L+datum.c1*datum.W","as":"X2"},{"calculate":"(datum.p==1?22:517)+datum.r*3.96","as":"Y"},{"calculate":"datum.Y+(datum.p==1?8:5.5)","as":"Y2"}],"mark":{"type":"rect","cornerRadius":2},"encoding":{"x":{"field":"X","type":"quantitative"},"x2":{"field":"X2"},"y":{"field":"Y","type":"quantitative"},"y2":{"field":"Y2"},"color":{"field":"v","type":"quantitative"}}},
{"data":{"values":[{}]},"mark":{"type":"rect","fill":null,"stroke":"#111","strokeWidth":3},"encoding":{"x":{"datum":756},"x2":{"datum":863},"y":{"datum":22},"y2":{"datum":419}}},
{"data":{"values":[{}]},"mark":{"type":"rect","fill":null,"stroke":"#111","strokeWidth":3},"encoding":{"x":{"datum":757},"x2":{"datum":866},"y":{"datum":517},"y2":{"datum":912}}},
{"data":{"values":[{}]},"mark":{"type":"rect","fill":{"gradient":"linear","x1":0,"y1":0,"x2":0,"y2":1,"stops":[{"offset":0,"color":"#a02020"},{"offset":0.03,"color":"#c83020"},{"offset":0.1,"color":"#e84a20"},{"offset":0.2,"color":"#f07010"},{"offset":0.25,"color":"#f59c10"},{"offset":0.3,"color":"#f8d000"},{"offset":0.35,"color":"#f5e800"},{"offset":0.42,"color":"#c0d820"},{"offset":0.47,"color":"#90c040"},{"offset":0.52,"color":"#70b888"},{"offset":0.55,"color":"#80c4e0"},{"offset":0.7,"color":"#8cc8ec"},{"offset":0.75,"color":"#6a9ed8"},{"offset":0.79,"color":"#4a5aa8"},{"offset":0.85,"color":"#40389a"},{"offset":1,"color":"#4a2590"}]}},"encoding":{"x":{"datum":879},"x2":{"datum":912},"y":{"datum":20},"y2":{"datum":220}}},
{"data":{"values":[{}]},"mark":{"type":"rect","fill":{"gradient":"linear","x1":0,"y1":0,"x2":0,"y2":1,"stops":[{"offset":0,"color":"#a02020"},{"offset":0.03,"color":"#c83020"},{"offset":0.1,"color":"#e84a20"},{"offset":0.2,"color":"#f07010"},{"offset":0.25,"color":"#f59c10"},{"offset":0.3,"color":"#f8d000"},{"offset":0.35,"color":"#f5e800"},{"offset":0.42,"color":"#c0d820"},{"offset":0.47,"color":"#90c040"},{"offset":0.52,"color":"#70b888"},{"offset":0.55,"color":"#80c4e0"},{"offset":0.7,"color":"#8cc8ec"},{"offset":0.75,"color":"#6a9ed8"},{"offset":0.79,"color":"#4a5aa8"},{"offset":0.85,"color":"#40389a"},{"offset":1,"color":"#4a2590"}]}},"encoding":{"x":{"datum":882},"x2":{"datum":914},"y":{"datum":515},"y2":{"datum":716}}},
{"data":{"values":[{"p":1,"v":8},{"p":1,"v":6},{"p":1,"v":4},{"p":1,"v":2},{"p":2,"v":8},{"p":2,"v":6},{"p":2,"v":4},{"p":2,"v":2}]},"transform":[{"calculate":"datum.p==1?925:927","as":"X"},{"calculate":"226-22.3*datum.v+(datum.p==2?495:0)","as":"Y"}],"mark":{"type":"text","fontWeight":"bold","fontSize":21,"fill":"#111"},"encoding":{"x":{"field":"X","type":"quantitative"},"y":{"field":"Y","type":"quantitative"},"text":{"field":"v"}}},
{"data":{"values":[{}]},"mark":{"type":"rect","fill":"#111111","stroke":"#5f3a94","strokeWidth":4},"encoding":{"x":{"datum":102},"x2":{"datum":244},"y":{"datum":67},"y2":{"datum":182}}},
{"data":{"values":[{}]},"mark":{"type":"rect","fill":"#111111","stroke":"#5f3a94","strokeWidth":4},"encoding":{"x":{"datum":100},"x2":{"datum":244},"y":{"datum":560},"y2":{"datum":676}}},
{"data":{"values":[{}]},"mark":{"type":"text","text":"Healthy","align":"left","fontWeight":"bold","fontSize":24,"fill":"#fdf6e3"},"encoding":{"x":{"datum":118},"y":{"datum":94}}},
{"data":{"values":[{}]},"mark":{"type":"text","text":"Controls","align":"left","fontWeight":"bold","fontSize":24,"fill":"#fdf6e3"},"encoding":{"x":{"datum":118},"y":{"datum":123}}},
{"data":{"values":[{}]},"mark":{"type":"text","text":"(n=10)","align":"left","fontSize":24,"fill":"#fdf6e3"},"encoding":{"x":{"datum":118},"y":{"datum":155}}},
{"data":{"values":[{}]},"mark":{"type":"text","text":"Cannabis","align":"left","fontWeight":"bold","fontSize":24,"fill":"#fdf6e3"},"encoding":{"x":{"datum":116},"y":{"datum":588}}},
{"data":{"values":[{}]},"mark":{"type":"text","text":"Users","align":"left","fontWeight":"bold","fontSize":24,"fill":"#fdf6e3"},"encoding":{"x":{"datum":116},"y":{"datum":617}}},
{"data":{"values":[{}]},"mark":{"type":"text","text":"(n=14)","align":"left","fontSize":24,"fill":"#fdf6e3"},"encoding":{"x":{"datum":116},"y":{"datum":648}}},
{"data":{"values":[{}]},"mark":{"type":"text","text":"Amplitude (µV)","angle":270,"fontWeight":"bold","fontSize":25,"fill":"#111"},"encoding":{"x":{"datum":25},"y":{"datum":145}}},
{"data":{"values":[{}]},"mark":{"type":"text","text":"Amplitude (µV)","angle":270,"fontWeight":"bold","fontSize":25,"fill":"#111"},"encoding":{"x":{"datum":25},"y":{"datum":638}}},
{"data":{"values":[{}]},"mark":{"type":"text","text":"Block","fontWeight":"bold","fontSize":25,"fill":"#111"},"encoding":{"x":{"datum":82},"y":{"datum":382}}},
{"data":{"values":[{}]},"mark":{"type":"text","text":"Block","fontWeight":"bold","fontSize":25,"fill":"#111"},"encoding":{"x":{"datum":82},"y":{"datum":875}}},
{"data":{"values":[{}]},"mark":{"type":"text","text":"Time (ms)","fontWeight":"bold","fontSize":24,"fill":"#111"},"encoding":{"x":{"datum":520},"y":{"datum":502}}},
{"data":{"values":[{}]},"mark":{"type":"text","text":"Time (ms)","fontWeight":"bold","fontSize":24,"fill":"#111"},"encoding":{"x":{"datum":520},"y":{"datum":992}}},
{"data":{"values":[{}]},"mark":{"type":"text","text":"Tone CS","fontWeight":"bold","fontSize":16,"fill":"#3a8a9c"},"encoding":{"x":{"datum":264},"y":{"datum":481}}},
{"data":{"values":[{}]},"mark":{"type":"text","text":"Tone CS","fontWeight":"bold","fontSize":16,"fill":"#3a8a9c"},"encoding":{"x":{"datum":264},"y":{"datum":975}}},
{"data":{"values":[{}]},"mark":{"type":"text","text":"Airpuff US","fontWeight":"bold","fontSize":16,"fill":"#c8703c"},"encoding":{"x":{"datum":693},"y":{"datum":466}}},
{"data":{"values":[{}]},"mark":{"type":"text","text":"Airpuff US","fontWeight":"bold","fontSize":16,"fill":"#c8703c"},"encoding":{"x":{"datum":693},"y":{"datum":958}}},
{"data":{"values":[{}]},"mark":{"type":"text","text":"CRs","fontWeight":"bold","fontStyle":"italic","fontSize":31,"fill":"#4b2a8f"},"encoding":{"x":{"datum":672},"y":{"datum":311}}},
{"data":{"values":[{}]},"mark":{"type":"text","text":"CRs","fontWeight":"bold","fontStyle":"italic","fontSize":31,"fill":"#4b2a8f"},"encoding":{"x":{"datum":672},"y":{"datum":805}}},
{"data":{"values":[{}]},"mark":{"type":"rule","stroke":"#111","strokeWidth":2.5,"strokeDash":[2,3]},"encoding":{"x":{"datum":537},"x2":{"datum":742},"y":{"datum":357},"y2":{"datum":329}}},
{"data":{"values":[{}]},"mark":{"type":"rule","stroke":"#111","strokeWidth":2.5,"strokeDash":[2,3]},"encoding":{"x":{"datum":537},"x2":{"datum":742},"y":{"datum":852},"y2":{"datum":824}}},
{"data":{"values":[{}]},"mark":{"type":"point","shape":"triangle-right","filled":true,"opacity":1,"fill":"#111","stroke":null,"size":60},"encoding":{"x":{"datum":745},"y":{"datum":328}}},
{"data":{"values":[{}]},"mark":{"type":"point","shape":"triangle-right","filled":true,"opacity":1,"fill":"#111","stroke":null,"size":60},"encoding":{"x":{"datum":745},"y":{"datum":823}}},
{"data":{"values":[{}]},"mark":{"type":"rule","stroke":"#aaa","strokeWidth":2},"encoding":{"x":{"datum":50},"x2":{"datum":186},"y":{"datum":302},"y2":{"datum":429}}},
{"data":{"values":[{}]},"mark":{"type":"rule","stroke":"#aaa","strokeWidth":2},"encoding":{"x":{"datum":50},"x2":{"datum":186},"y":{"datum":795},"y2":{"datum":922}}},
{"data":{"values":[{}]},"mark":{"type":"point","shape":"triangle-right","angle":43,"filled":true,"opacity":1,"fill":"#aaa","stroke":null,"size":70},"encoding":{"x":{"datum":187},"y":{"datum":430}}},
{"data":{"values":[{}]},"mark":{"type":"point","shape":"triangle-right","angle":43,"filled":true,"opacity":1,"fill":"#aaa","stroke":null,"size":70},"encoding":{"x":{"datum":187},"y":{"datum":923}}},
{"data":{"values":[{}]},"mark":{"type":"rule","stroke":"#aaa","strokeWidth":2},"encoding":{"x":{"datum":737},"y":{"datum":27},"y2":{"datum":228}}},
{"data":{"values":[{}]},"mark":{"type":"rule","stroke":"#aaa","strokeWidth":2},"encoding":{"x":{"datum":738},"y":{"datum":520},"y2":{"datum":722}}},
{"data":{"values":[{}]},"mark":{"type":"point","shape":"triangle-down","filled":true,"opacity":1,"fill":"#aaa","stroke":null,"size":60},"encoding":{"x":{"datum":737},"y":{"datum":230}}},
{"data":{"values":[{}]},"mark":{"type":"point","shape":"triangle-down","filled":true,"opacity":1,"fill":"#aaa","stroke":null,"size":60},"encoding":{"x":{"datum":738},"y":{"datum":724}}},
{"data":{"values":[{}]},"mark":{"type":"rule","stroke":"#aaa","strokeWidth":2},"encoding":{"x":{"datum":757},"x2":{"datum":858},"y":{"datum":431}}},
{"data":{"values":[{}]},"mark":{"type":"rule","stroke":"#aaa","strokeWidth":2},"encoding":{"x":{"datum":758},"x2":{"datum":858},"y":{"datum":924}}},
{"data":{"values":[{}]},"mark":{"type":"point","shape":"triangle-right","filled":true,"opacity":1,"fill":"#aaa","stroke":null,"size":60},"encoding":{"x":{"datum":860},"y":{"datum":431}}},
{"data":{"values":[{}]},"mark":{"type":"point","shape":"triangle-right","filled":true,"opacity":1,"fill":"#aaa","stroke":null,"size":60},"encoding":{"x":{"datum":860},"y":{"datum":924}}},
{"data":{"values":[{}]},"mark":{"type":"text","text":"Block","angle":270,"fontWeight":"bold","fontStyle":"italic","fontSize":21,"fill":"#111"},"encoding":{"x":{"datum":715},"y":{"datum":130}}},
{"data":{"values":[{}]},"mark":{"type":"text","text":"Block","angle":270,"fontWeight":"bold","fontStyle":"italic","fontSize":21,"fill":"#111"},"encoding":{"x":{"datum":715},"y":{"datum":627}}},
{"data":{"values":[{}]},"mark":{"type":"text","text":"Time","fontWeight":"bold","fontStyle":"italic","fontSize":21,"fill":"#111"},"encoding":{"x":{"datum":809},"y":{"datum":448}}},
{"data":{"values":[{}]},"mark":{"type":"text","text":"Time","fontWeight":"bold","fontStyle":"italic","fontSize":21,"fill":"#111"},"encoding":{"x":{"datum":810},"y":{"datum":942}}},
{"data":{"values":[{}]},"mark":{"type":"text","text":"µV","fontWeight":"bold","fontSize":26,"fill":"#111"},"encoding":{"x":{"datum":896},"y":{"datum":244}}},
{"data":{"values":[{}]},"mark":{"type":"text","text":"µV","fontWeight":"bold","fontSize":26,"fill":"#111"},"encoding":{"x":{"datum":897},"y":{"datum":738}}}
]}
